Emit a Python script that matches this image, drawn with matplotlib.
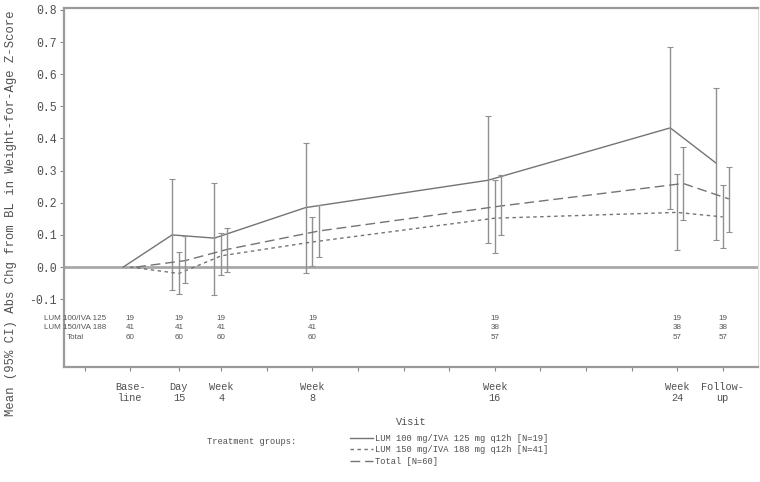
import numpy as np
import matplotlib
matplotlib.use('Agg')
import matplotlib.pyplot as plt

mono = 'Liberation Mono'

# visits in weeks (Day 15 = 15/7, follow-up plotted at week 26)
visit_x = [0, 15 / 7, 4, 8, 16, 24, 26]
visit_labels = ['Base-\nline', 'Day\n15', 'Week\n4', 'Week\n8', 'Week\n16', 'Week\n24', 'Follow-\nup']

groups = ['LUM 100/IVA 125', 'LUM 150/IVA 188', 'Total']
legend_labels = ['LUM 100 mg/IVA 125 mg q12h [N=19]',
                 'LUM 150 mg/IVA 188 mg q12h [N=41]',
                 'Total [N=60]']

g1_mean = [0, 0.100, 0.090, 0.185, 0.270, 0.433, 0.324]
g1_lo = [np.nan, -0.070, -0.087, -0.020, 0.075, 0.180, 0.084]
g1_hi = [np.nan, 0.274, 0.262, 0.386, 0.470, 0.685, 0.557]

g2_mean = [0, -0.020, 0.035, 0.078, 0.152, 0.170, 0.156]
g2_lo = [np.nan, -0.084, -0.025, 0.003, 0.044, 0.053, 0.060]
g2_hi = [np.nan, 0.047, 0.106, 0.156, 0.270, 0.290, 0.255]

tot_mean = [0, 0.020, 0.055, 0.112, 0.190, 0.260, 0.212]
tot_lo = [np.nan, -0.050, -0.016, 0.030, 0.100, 0.147, 0.110]
tot_hi = [np.nan, 0.097, 0.120, 0.193, 0.287, 0.375, 0.310]

n_g1 = [19, 19, 19, 19, 19, 19, 19]
n_g2 = [41, 41, 41, 41, 38, 38, 38]
n_tot = [60, 60, 60, 60, 57, 57, 57]

series = [
    (g1_mean, g1_lo, g1_hi, -0.3, '-'),
    (g2_mean, g2_lo, g2_hi, 0.0, (0, (2.5, 2.5))),
    (tot_mean, tot_lo, tot_hi, 0.27, (0, (7, 3.5))),
]

fig = plt.figure(figsize=(7.6, 4.82), dpi=100)
ax = fig.add_axes([64 / 760, 115 / 482, 694 / 760, 359 / 482])

line_col = '#747474'
bar_col = '#909090'

handles = []
for mean, lo, hi, off, ls in series:
    x = np.array(visit_x) + off
    m = np.array(mean)
    l = np.array(lo)
    h = np.array(hi)
    ln, = ax.plot(x, m, color=line_col, lw=1.0, linestyle=ls)
    handles.append(ln)
    ax.errorbar(x[1:], m[1:], yerr=[m[1:] - l[1:], h[1:] - m[1:]], fmt='none',
                ecolor=bar_col, elinewidth=1.0, capsize=2.2, capthick=0.8)

ax.axhline(0, color='#a8a8a8', lw=2, zorder=0)

ax.set_xlim(-2.9, 27.55)
ax.set_ylim(-0.311, 0.806)

yt = np.round(np.arange(-0.1, 0.81, 0.1), 1)
ax.set_yticks(yt)
ax.set_yticklabels(['%.1f' % v for v in yt], fontfamily=mono, fontsize=8.3, color='#505050')

minor = [-2, 6, 10, 12, 14, 18, 20, 22]
ax.set_xticks(visit_x)
ax.set_xticklabels(visit_labels, fontfamily=mono, fontsize=7.4, color='#505050',
                   linespacing=1.15)
ax.set_xticks(minor, minor=True)
ax.tick_params(axis='both', which='both', direction='out', color='#888888',
               length=3, width=0.8, pad=2)
ax.tick_params(axis='x', which='major', pad=8)

for s in ax.spines.values():
    s.set_color('#9a9a9a')
    s.set_linewidth(1.6)
ax.spines['right'].set_linewidth(0.8)
ax.spines['right'].set_color('#dddddd')

ax.set_xlabel('Visit', fontfamily=mono, fontsize=7.4, color='#505050', labelpad=10)
fig.text(0.014, 1 - 213 / 482, 'Mean (95% CI) Abs Chg from BL in Weight-for-Age Z-Score',
         rotation=90, ha='center', va='center', fontfamily=mono, fontsize=8.8,
         color='#505050')

# N table inside axes
row_y = [-0.159, -0.188, -0.218]
label_x = -2.42
for yy, name, counts in zip(row_y, groups, [n_g1, n_g2, n_tot]):
    ax.text(label_x, yy, name, ha='center', va='center', fontsize=5.8,
            color='#555555', clip_on=False, fontfamily='Liberation Sans')
    for vx, n in zip(visit_x, counts):
        ax.text(vx, yy, str(n), ha='center', va='center', fontsize=5.8,
                color='#555555', fontfamily='Liberation Sans')

# legend
fig.text(207 / 760, 1 - 441 / 482, 'Treatment groups:', ha='left', va='center',
         fontfamily=mono, fontsize=6.3, color='#505050')
leg = fig.legend(handles, legend_labels, loc='upper left',
                 bbox_to_anchor=(350 / 760, 1 - 434 / 482), frameon=False,
                 prop={'family': mono, 'size': 6.3}, handlelength=2.6,
                 handletextpad=0.3, labelspacing=0.28, borderpad=0, borderaxespad=0)
for t in leg.get_texts():
    t.set_color('#505050')

fig.savefig('out.png', dpi=100)
